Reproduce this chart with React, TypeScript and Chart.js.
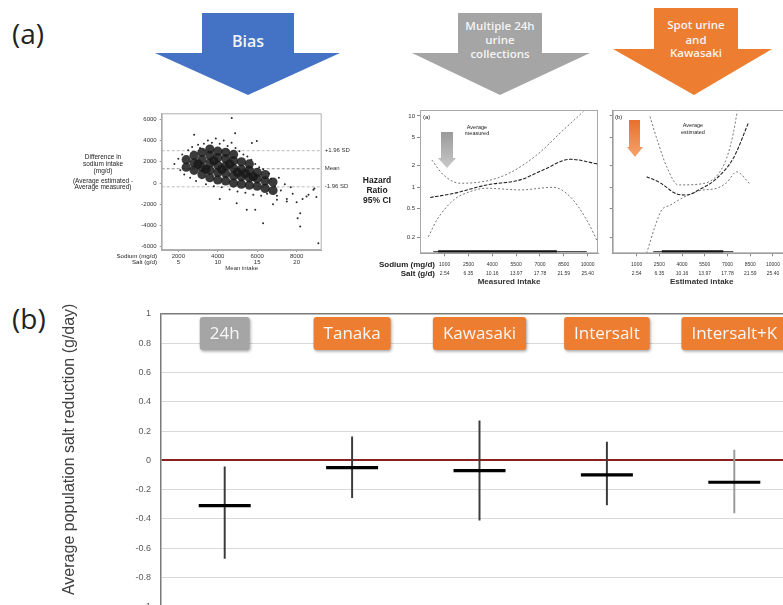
import React, { useEffect, useRef } from "react";
import { Chart, registerables } from "chart.js";
Chart.register(...registerables);

// ---------- Panel (b): average population salt reduction ----------
const methods = ["24h", "Tanaka", "Kawasaki", "Intersalt", "Intersalt+K"];
const meanReduction = [-0.31, -0.05, -0.07, -0.1, -0.15];
const ciLower = [-0.67, -0.255, -0.41, -0.305, -0.36];
const ciUpper = [-0.045, 0.16, 0.27, 0.125, 0.07];
const yAxisTitle = "Average population salt reduction (g/day)";

// ---------- Panel (a): Bland-Altman style scatter ----------
const scatterSodiumTicks = [2000, 4000, 6000, 8000];
const scatterSaltTicks = [5, 10, 15, 20];
const scatterYTicks = [-6000, -4000, -2000, 0, 2000, 4000, 6000];
const limitValues = [3050, 1350, -350];
const limitLabels = ["+1.96 SD", "Mean", "-1.96 SD"];
const denseCloud: number[][] = [
  [2400, 1500], [2400, 2200],
  [2800, 1200], [2800, 1900], [2800, 2600],
  [3200, 800], [3200, 1500], [3200, 2200], [3200, 2900],
  [3600, 500], [3600, 1200], [3600, 1900], [3600, 2600], [3600, 3200],
  [4000, 300], [4000, 1000], [4000, 1700], [4000, 2400], [4000, 3000],
  [4400, 200], [4400, 900], [4400, 1600], [4400, 2300], [4400, 2900],
  [4800, 0], [4800, 700], [4800, 1400], [4800, 2100], [4800, 2700],
  [5200, -100], [5200, 600], [5200, 1300], [5200, 2000],
  [5600, -200], [5600, 500], [5600, 1200], [5600, 1800],
  [6000, -300], [6000, 400], [6000, 1000],
  [6400, -500], [6400, 200], [6400, 800],
  [6800, -700], [6800, 100],
  [3000, 1800], [3400, 1300], [3800, 2100], [4200, 1300], [4600, 1800], [5000, 1000], [5400, 900], [5800, 600],
];
const sparsePoints: number[][] = [
  [1800, 1800], [2000, 2300], [2100, 1200], [2200, 2700], [2300, 800], [2500, 3100],
  [2600, 500], [2700, 3400], [2900, 200], [3000, 3600], [3100, 3300], [3300, 3700],
  [3400, -100], [3500, 4000], [3700, 3800], [3800, -300], [3900, 4200], [4100, 3700],
  [4200, -400], [4300, 4000], [4500, 3500], [4600, -600], [4700, 3800], [4900, 3300],
  [5000, -800], [5100, 3000], [5300, 2700], [5400, -900], [5500, 2500], [5700, 2200],
  [5800, -1100], [5900, 1800], [6100, 1500], [6200, -1200], [6300, 1300], [6500, -1000],
  [6600, 900], [6700, 400], [6900, -300], [7000, -1200], [7100, 500], [7200, -700],
  [7400, -100], [7500, -1500], [7700, -400], [7800, -1000], [8000, -1800], [8300, -1500],
  [8600, -1100], [8900, -500], [9000, -1300],
  [2800, 4550], [4880, 4700], [4710, 6130], [5730, 3770], [5980, 3960], [6300, -3770],
  [5900, -2520], [5470, -2520], [4960, -1890], [8180, -2830], [8180, -4090], [8050, -3300],
  [9100, -5660], [7000, -1580], [7500, -1740], [8500, -1260], [8850, -630], [6800, -2000],
  [4100, -1500],
];

// ---------- Panel (a): hazard ratio curves ----------
const hrTicks = [0.2, 0.5, 1, 2, 5, 10];
const hazardSodiumTicks = [1000, 2500, 4000, 5500, 7000, 8500, 10000];
const hazardSaltTicks = ["2.54", "6.35", "10.16", "13.97", "17.78", "21.59", "25.40"];
const rugLevel = 0.125;

const measuredEstX = [90, 1550, 3650, 5750, 7200, 8900, 10650];
const measuredEstY = [0.72, 0.82, 1.08, 1.27, 1.75, 2.47, 2.12];
const measuredUpX = [195, 925, 1975, 3650, 5120, 6800, 8470, 9730];
const measuredUpY = [2.41, 1.49, 1.14, 1.23, 1.6, 2.84, 6.36, 11.5];
const measuredLoX = [-20, 510, 1550, 2600, 3650, 5750, 7840, 8890, 9940, 10670];
const measuredLoY = [0.203, 0.348, 0.66, 0.87, 0.97, 0.92, 1.0, 0.74, 0.348, 0.164];
const measuredRugWide = [280, 9940];
const measuredRugDense = [590, 8060];

const estimatedEstX = [1660, 2540, 3640, 4300, 5180, 6170, 7380, 8370];
const estimatedEstY = [1.41, 1.16, 0.81, 0.78, 0.94, 1.27, 2.55, 7.9];
const estimatedUpX = [1880, 2430, 2980, 3750, 5180, 6280, 6940, 7380, 7640];
const estimatedUpY = [9.8, 4.14, 1.95, 1.08, 1.11, 1.44, 2.55, 5.7, 11.5];
const estimatedLoX = [1660, 2205, 2650, 3200, 4080, 5180, 6280, 6940, 7600, 8480];
const estimatedLoY = [0.119, 0.28, 0.48, 0.56, 0.72, 0.9, 0.97, 1.16, 1.65, 1.11];
const estimatedRugWide = [2100, 7380];
const estimatedRugDense = [2660, 6720];

// ---------- styles ----------
const labelBoxColors = ["#a5a5a5", "#ed7d31", "#ed7d31", "#ed7d31", "#ed7d31"];
const ciColors = ["#3a3a3a", "#3a3a3a", "#3a3a3a", "#3a3a3a", "#9a9a9a"];
const SANS = '"Liberation Sans", Arial, sans-serif';
const OPEN = '"Open Sans", "Noto Sans", sans-serif';

const framePlugin = (color: string) => ({
  id: "frame",
  afterDatasetsDraw(chart: any) {
    const { ctx, chartArea: a } = chart;
    ctx.save();
    ctx.strokeStyle = color;
    ctx.lineWidth = 1;
    ctx.strokeRect(a.left + 0.5, a.top + 0.5, a.right - a.left - 1, a.bottom - a.top - 1);
    ctx.restore();
  },
});

const labelBoxPlugin = {
  id: "labelBoxes",
  afterDraw(chart: any) {
    const { ctx, chartArea } = chart;
    const xs = chart.scales.x;
    const labels = chart.data.labels as string[];
    ctx.save();
    ctx.font = `17px ${OPEN}`;
    labels.forEach((lab, i) => {
      const cx = xs.getPixelForValue(i);
      const w = ctx.measureText(lab).width + 20;
      const h = 33;
      const x0 = cx - w / 2;
      const y0 = chartArea.top + 3;
      ctx.save();
      ctx.shadowColor = "rgba(0,0,0,0.35)";
      ctx.shadowBlur = 3;
      ctx.shadowOffsetX = 1;
      ctx.shadowOffsetY = 1.5;
      ctx.fillStyle = labelBoxColors[i];
      ctx.beginPath();
      (ctx as any).roundRect(x0, y0, w, h, 3);
      ctx.fill();
      ctx.restore();
      ctx.fillStyle = "#f7f7f7";
      ctx.textAlign = "center";
      ctx.textBaseline = "middle";
      ctx.fillText(lab, cx, y0 + h / 2 + 1);
    });
    ctx.restore();
  },
};

// y-axis title of panel (b), centred slightly above the plot's middle as in the original
const yTitlePlugin = {
  id: "yTitle",
  afterDraw(chart: any) {
    const { ctx, chartArea } = chart;
    const ys = chart.scales.y;
    ctx.save();
    ctx.font = `16px ${SANS}`;
    ctx.fillStyle = "#404040";
    ctx.textAlign = "center";
    ctx.textBaseline = "middle";
    ctx.translate(ys.left + 14.5, (chartArea.top + chartArea.bottom) / 2 - 11);
    ctx.rotate(-Math.PI / 2);
    ctx.fillText(yAxisTitle, 0, 0);
    ctx.restore();
  },
};

const limitLabelPlugin = {
  id: "limitLabels",
  afterDraw(chart: any) {
    const { ctx, chartArea } = chart;
    const ys = chart.scales.y;
    ctx.save();
    ctx.font = `6px ${SANS}`;
    ctx.fillStyle = "#333";
    ctx.textBaseline = "middle";
    limitValues.forEach((v, i) => {
      ctx.fillText(limitLabels[i], chartArea.right + 3, ys.getPixelForValue(v));
    });
    ctx.restore();
  },
};

function mainConfig(): any {
  return {
    type: "bar",
    data: {
      labels: methods,
      datasets: [
        {
          type: "line",
          label: "Mean",
          data: meanReduction,
          showLine: false,
          pointStyle: "line",
          pointRadius: 26,
          pointHoverRadius: 26,
          pointBorderWidth: 3.2,
          borderColor: "#000",
          backgroundColor: "#000",
          order: 0,
        },
        {
          type: "bar",
          label: "95% CI",
          data: methods.map((_, i) => [ciLower[i], ciUpper[i]]),
          barThickness: 1.3,
          backgroundColor: ciColors,
          borderWidth: 0,
          order: 1,
        },
      ],
    },
    options: {
      responsive: false,
      animation: false,
      events: [],
      layout: { autoPadding: false, padding: { top: 20, right: 2, bottom: 15, left: 0 } },
      plugins: { legend: { display: false }, tooltip: { enabled: false } },
      scales: {
        x: { display: false, offset: true },
        y: {
          min: -1,
          max: 1,
          afterFit: (s: any) => { s.width = 106; },
          ticks: {
            stepSize: 0.2,
            padding: 10,
            color: "#595959",
            font: { size: 9, family: SANS },
            callback: (v: any) => String(Math.round(Number(v) * 10) / 10),
          },
          grid: {
            drawTicks: false,
            color: (c: any) => {
              const v = Math.round(c.tick.value * 10) / 10;
              if (v === 0) return "#8b2020";
              if (v === 1) return "#7a7a7a";
              return "#d9d9d9";
            },
            lineWidth: (c: any) => {
              const v = Math.round(c.tick.value * 10) / 10;
              if (v === 0) return 2;
              if (v === 1) return 1.5;
              return 1;
            },
          },
          border: { color: "#7a7a7a", width: 1.5 },
          title: { display: false },
        },
      },
    },
    plugins: [labelBoxPlugin, yTitlePlugin],
  };
}

function scatterConfig(): any {
  const pts = (arr: number[][]) => arr.map(([x, y]) => ({ x, y }));
  const xMin = 1157;
  const xMax = 9270;
  return {
    type: "scatter",
    data: {
      datasets: [
        { data: pts(denseCloud), pointRadius: 4.6, pointBackgroundColor: "rgba(25,25,25,0.85)", pointBorderWidth: 0 },
        { data: pts(sparsePoints), pointRadius: 1, pointBackgroundColor: "rgba(20,20,20,0.9)", pointBorderWidth: 0 },
        ...limitValues.map((v, i) => ({
          type: "line",
          data: [{ x: xMin, y: v }, { x: xMax, y: v }],
          showLine: true,
          borderColor: i === 1 ? "#777" : "#aaa",
          borderWidth: 0.8,
          borderDash: [3, 2],
          pointRadius: 0,
        })),
      ],
    },
    options: {
      responsive: false,
      animation: false,
      events: [],
      layout: { autoPadding: false, padding: { top: 13.3, right: 38.3, bottom: 0, left: 0 } },
      plugins: { legend: { display: false }, tooltip: { enabled: false } },
      scales: {
        x: {
          type: "linear",
          min: xMin,
          max: xMax,
          afterBuildTicks: (s: any) => { s.ticks = scatterSodiumTicks.map((v) => ({ value: v })); },
          afterFit: (s: any) => { s.height = 30; },
          ticks: {
            autoSkip: false,
            maxRotation: 0,
            padding: 0.7,
            color: "#333",
            font: { size: 6, family: SANS, lineHeight: 1.12 },
            callback: (_v: any, i: number) => [String(scatterSodiumTicks[i]), String(scatterSaltTicks[i])],
          },
          grid: { drawOnChartArea: false, tickLength: 2, color: "#999" },
          border: { color: "#aaa" },
          title: { display: true, text: "Mean intake", color: "#333", font: { size: 6, family: SANS }, padding: { top: 0, bottom: 8.1 } },
        },
        y: {
          type: "linear",
          min: -6300,
          max: 6570,
          afterBuildTicks: (s: any) => { s.ticks = scatterYTicks.map((v) => ({ value: v })); },
          afterFit: (s: any) => { s.width = 26.7; },
          ticks: { padding: 3, color: "#333", font: { size: 6, family: SANS }, callback: (v: any) => String(v) },
          grid: { drawOnChartArea: false, tickLength: 2, color: "#999" },
          border: { color: "#aaa" },
        },
      },
    },
    plugins: [framePlugin("#b0b0b0"), limitLabelPlugin],
  };
}

function hazardConfig(o: any): any {
  const curve = (xs: number[], ys: number[], color: string, dash: number[], width: number) => ({
    data: xs.map((x, i) => ({ x, y: ys[i] })),
    borderColor: color,
    borderDash: dash,
    borderWidth: width,
    pointRadius: 0,
    cubicInterpolationMode: "monotone",
    fill: false,
  });
  const rug = (span: number[], width: number) => ({
    data: [{ x: span[0], y: rugLevel }, { x: span[1], y: rugLevel }],
    borderColor: "#111",
    borderWidth: width,
    pointRadius: 0,
  });
  return {
    type: "line",
    data: {
      datasets: [
        curve(o.upX, o.upY, "#666", [2, 2], 0.9),
        curve(o.estX, o.estY, "#222", [3.5, 1.5], 1.1),
        curve(o.loX, o.loY, "#666", [2, 2], 0.9),
        rug(o.rugWide, 1),
        rug(o.rugDense, 3),
      ],
    },
    options: {
      responsive: false,
      animation: false,
      events: [],
      layout: { autoPadding: false, padding: { top: 10, right: o.rightPad, bottom: 0, left: 0 } },
      plugins: { legend: { display: false }, tooltip: { enabled: false } },
      scales: {
        x: {
          type: "linear",
          min: o.xMin,
          max: o.xMax,
          afterBuildTicks: (s: any) => { s.ticks = hazardSodiumTicks.map((v) => ({ value: v })); },
          afterFit: (s: any) => { s.height = 36.7; },
          ticks: {
            autoSkip: false,
            maxRotation: 0,
            padding: 3.5,
            color: "#333",
            font: { size: 5, family: SANS, lineHeight: 1.8 },
            callback: (_v: any, i: number) => [String(hazardSodiumTicks[i]), hazardSaltTicks[i]],
          },
          grid: { drawOnChartArea: false, tickLength: 3, color: "#888" },
          border: { color: "#999" },
          title: { display: true, text: o.xTitle, color: "#333", font: { size: 8, weight: "bold", family: SANS }, padding: { top: 0, bottom: 3.1 } },
        },
        y: {
          type: "logarithmic",
          min: 0.119,
          max: 12.1,
          afterBuildTicks: (s: any) => { s.ticks = hrTicks.map((v) => ({ value: v })); },
          afterFit: (s: any) => { s.width = o.yWidth; },
          ticks: { display: o.showY, padding: 2, color: "#333", font: { size: 6, family: SANS }, callback: (v: any) => String(v) },
          grid: { drawOnChartArea: false, tickLength: 3, color: "#888" },
          border: { color: "#999" },
        },
      },
    },
    plugins: [framePlugin("#a8a8a8")],
  };
}

function ChartCanvas({ left, top, width, height, make }: { left: number; top: number; width: number; height: number; make: () => any }) {
  const ref = useRef<HTMLCanvasElement>(null);
  useEffect(() => {
    const chart = new Chart(ref.current as HTMLCanvasElement, make());
    return () => chart.destroy();
  }, []);
  return <canvas ref={ref} width={width} height={height} style={{ position: "absolute", left, top, width, height }} />;
}

function Txt({ x, y, w, align = "center", size, weight = 400, lh, color = "#222", family = SANS, children }: any) {
  return (
    <div style={{ position: "absolute", left: x, top: y, width: w, textAlign: align, fontSize: size, fontWeight: weight, lineHeight: lh + "px", color, fontFamily: family, whiteSpace: "nowrap" }}>
      {children}
    </div>
  );
}

export default function App() {
  return (
    <div style={{ position: "fixed", left: 0, top: 0, width: 783, height: 605, overflow: "hidden", background: "#fff", fontFamily: SANS, color: "#222" }}>
      {/* big arrows */}
      <svg width={783} height={100} style={{ position: "absolute", left: 0, top: 0 }}>
        <defs>
          <linearGradient id="gArr" x1="0" y1="0" x2="0" y2="1">
            <stop offset="0" stopColor="#9a9a9a" />
            <stop offset="1" stopColor="#c8c8c8" />
          </linearGradient>
          <linearGradient id="oArr" x1="0" y1="0" x2="0" y2="1">
            <stop offset="0" stopColor="#e8702a" />
            <stop offset="1" stopColor="#f4a46e" />
          </linearGradient>
        </defs>
        <polygon points="202,13 294,13 294,53 340,53 248,95 155,53 202,53" fill="#4472c4" />
        <polygon points="458,13 542,13 542,53 590,53 500,95 412,53 458,53" fill="#a5a5a5" />
        <polygon points="654,8 738,8 738,49 772,49 694,95 613,49 654,49" fill="#ed7d31" />
        <g fill="#f4f4f4" fontFamily={OPEN} fontWeight={600} textAnchor="middle" dominantBaseline="middle">
          <text x={248} y={43} fontSize={16}>Bias</text>
          <text x={500} y={27} fontSize={11.5}>Multiple 24h</text>
          <text x={500} y={41} fontSize={11.5}>urine</text>
          <text x={500} y={55} fontSize={11.5}>collections</text>
          <text x={696} y={26} fontSize={11.5}>Spot urine</text>
          <text x={696} y={41} fontSize={11.5}>and</text>
          <text x={696} y={54} fontSize={11.5}>Kawasaki</text>
        </g>
      </svg>

      <Txt x={12} y={19} w={60} align="left" size={28} lh={28} family={OPEN} color="#222">(a)</Txt>
      <Txt x={12} y={304} w={60} align="left" size={28} lh={28} family={OPEN} color="#222">(b)</Txt>

      {/* scatter */}
      <ChartCanvas left={135} top={100} width={225} height={180} make={scatterConfig} />
      <Txt x={63} y={154.4} w={80} size={6.5} lh={6.7}>Difference in<br />sodium intake<br />(mg/d)</Txt>
      <Txt x={63} y={177.7} w={80} size={6.5} lh={6.7}>(Average estimated -<br />Average measured)</Txt>
      <Txt x={87} y={252.6} w={70} align="right" size={6.2} lh={6.7}>Sodium (mg/d)<br />Salt (g/d)</Txt>

      {/* hazard 1 */}
      <ChartCanvas
        left={395}
        top={100}
        width={210}
        height={190}
        make={() =>
          hazardConfig({
            estX: measuredEstX, estY: measuredEstY, upX: measuredUpX, upY: measuredUpY, loX: measuredLoX, loY: measuredLoY,
            rugWide: measuredRugWide, rugDense: measuredRugDense, xMin: -550, xMax: 10650, xTitle: "Measured intake",
            showY: true, yWidth: 25, rightPad: 7,
          })
        }
      />
      {/* hazard 2 */}
      <ChartCanvas
        left={600}
        top={100}
        width={200}
        height={190}
        make={() =>
          hazardConfig({
            estX: estimatedEstX, estY: estimatedEstY, upX: estimatedUpX, upY: estimatedUpY, loX: estimatedLoX, loY: estimatedLoY,
            rugWide: estimatedRugWide, rugDense: estimatedRugDense, xMin: -580, xMax: 11170, xTitle: "Estimated intake",
            showY: false, yWidth: 12.7, rightPad: 9.3,
          })
        }
      />
      <Txt x={345} y={175} w={64} size={8.5} weight={700} lh={10}>Hazard<br />Ratio<br />95% CI</Txt>
      <Txt x={340} y={259.5} w={95} align="right" size={8} weight={700} lh={9}>Sodium (mg/d)<br />Salt (g/d)</Txt>
      <Txt x={423} y={113.5} w={20} align="left" size={6} lh={7}>(a)</Txt>
      <Txt x={447} y={123.5} w={60} size={5.5} lh={6.5}>Average<br />measured</Txt>
      <Txt x={615} y={113.5} w={20} align="left" size={6} lh={7}>(b)</Txt>
      <Txt x={663} y={122} w={60} size={5.5} lh={6.5}>Average<br />estimated</Txt>
      <svg width={783} height={200} style={{ position: "absolute", left: 0, top: 100 }}>
        <polygon points="441,32 453,32 453,58 456,58 447,68 438,58 441,58" fill="url(#gArr)" />
        <polygon points="629,20 640,20 640,47 643,47 635,57 627,47 629,47" fill="url(#oArr)" />
      </svg>

      {/* panel (b) */}
      <ChartCanvas left={55} top={294} width={745} height={328} make={mainConfig} />
    </div>
  );
}
